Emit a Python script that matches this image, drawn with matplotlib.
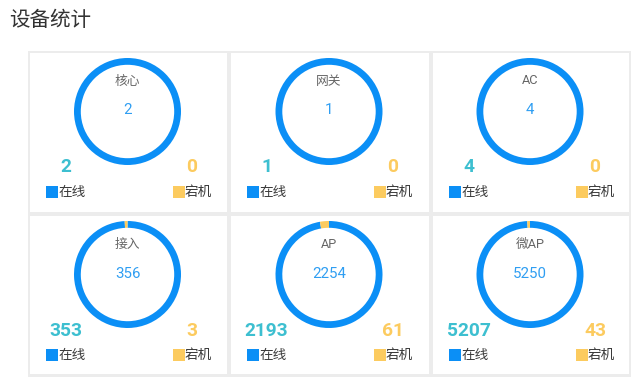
import matplotlib
matplotlib.use("Agg")
import matplotlib.pyplot as plt
from matplotlib.patches import Rectangle

plt.rcParams['font.family'] = ['Roboto', 'Noto Sans CJK SC', 'DejaVu Sans']

title = '设备统计'
categories = ['核心', '网关', 'AC', '接入', 'AP', '微AP']
online = [2, 1, 4, 353, 2193, 5207]
offline = [0, 0, 0, 3, 61, 43]
totals = [2, 1, 4, 356, 2254, 5250]
legend_labels = ['在线', '宕机']

W, H = 638, 383
fig = plt.figure(figsize=(W / 100, H / 100), dpi=100)
ax = fig.add_axes([0, 0, 1, 1])

def Y(p):
    return H - p

BLUE = '#0b8ff6'
ORANGE = '#fccb5f'
TEAL = '#3dbfd0'
NUM = '#2f9ef2'
GRAY = '#ececec'

# outer gray frame
ax.add_patch(Rectangle((28, Y(377)), 631 - 28, 377 - 51, facecolor=GRAY, edgecolor='none', zorder=0))

cols = [(30, 227), (231, 429), (433, 629)]
rows = [(53, 212), (216, 374)]

fig.text(9 / W, 1 - 20 / H, title, fontsize=14.8, color='#333333', va='center', ha='left')

for i, cat in enumerate(categories):
    r, c = divmod(i, 3)
    x0, x1 = cols[c]
    y0, y1 = rows[r]
    ax.add_patch(Rectangle((x0, Y(y1)), x1 - x0, y1 - y0, facecolor='white', edgecolor='none', zorder=1))
    cx = (x0 + x1) / 2 - 1
    cy = y0 + 58.5
    wedges, _ = ax.pie([online[i], offline[i]], colors=[BLUE, ORANGE], startangle=90, counterclock=False,
                       center=(cx, Y(cy)), radius=53.5, frame=True,
                       wedgeprops=dict(width=6.8, linewidth=0))
    for w in wedges:
        w.set_zorder(2)
    ax.text(cx, Y(y0 + 28), cat, fontsize=9.2, color='#666666', ha='center', va='center', zorder=3)
    ax.text(cx, Y(cy - 1), str(totals[i]), fontsize=10.8, color=NUM, ha='center', va='center', zorder=3)
    ax.text(x0 + 35.5, Y(y0 + 114.5), str(online[i]), fontsize=13.8, fontweight='bold', color=TEAL,
            ha='center', va='center', zorder=3)
    ax.text(x0 + 162, Y(y0 + 114.5), str(offline[i]), fontsize=13.8, fontweight='bold', color=ORANGE,
            ha='center', va='center', zorder=3)
    ly = y0 + 139
    ax.add_patch(Rectangle((x0 + 16, Y(ly + 6)), 12, 12, facecolor=BLUE, edgecolor='none', zorder=3))
    ax.text(x0 + 28, Y(ly), legend_labels[0], fontsize=9.8, color='#3a3a3a', ha='left', va='center', zorder=3)
    ax.add_patch(Rectangle((x0 + 143, Y(ly + 6)), 12, 12, facecolor=ORANGE, edgecolor='none', zorder=3))
    ax.text(x0 + 155, Y(ly), legend_labels[1], fontsize=9.8, color='#3a3a3a', ha='left', va='center', zorder=3)

ax.set_xlim(0, W)
ax.set_ylim(0, H)
ax.set_aspect('auto')
ax.axis('off')
fig.savefig('out.png', dpi=100, facecolor='white')
